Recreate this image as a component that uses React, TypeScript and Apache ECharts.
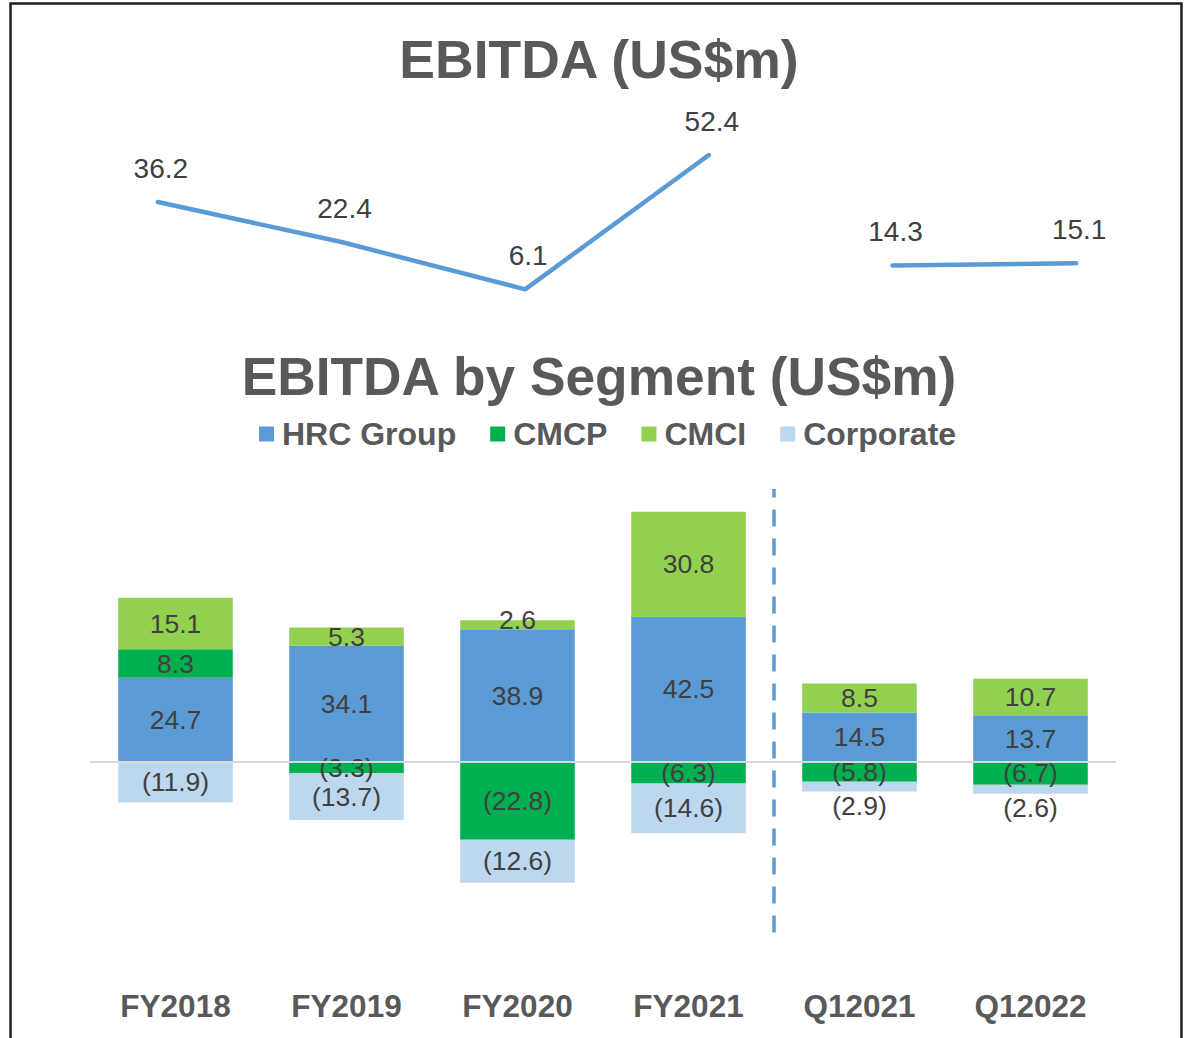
import React, { useEffect, useRef } from "react";
import * as echarts from "echarts";

const categories = ["FY2018", "FY2019", "FY2020", "FY2021", "Q12021", "Q12022"];
const ebitdaFY = [36.2, 22.4, 6.1, 52.4, null, null];
const ebitdaQ = [null, null, null, null, 14.3, 15.1];
const hrcGroup = [24.7, 34.1, 38.9, 42.5, 14.5, 13.7];
const cmcp = [8.3, -3.3, -22.8, -6.3, -5.8, -6.7];
const cmci = [15.1, 5.3, 2.6, 30.8, 8.5, 10.7];
const corporate = [-11.9, -13.7, -12.6, -14.6, -2.9, -2.6];
const seriesNames = ["HRC Group", "CMCP", "CMCI", "Corporate"];

const FONT = "'Liberation Sans', Arial, sans-serif";
const TXT = "#404040";

const fmt = (v: number) => (v < 0 ? `(${Math.abs(v).toFixed(1)})` : v.toFixed(1));

export default function App() {
  const ref = useRef<HTMLDivElement>(null);
  useEffect(() => {
    if (!ref.current) return;
    const chart = echarts.init(ref.current, null, { renderer: "svg" });
    const barLabel = {
      show: true,
      position: "inside",
      color: TXT,
      fontFamily: FONT,
      fontSize: 26.5,
      formatter: (p: any) => fmt(p.value),
    };
    const lineLabel = {
      show: true,
      position: "top",
      distance: 20,
      offset: [3, 0],
      color: TXT,
      fontFamily: FONT,
      fontSize: 28,
      formatter: (p: any) => p.value.toFixed(1),
    };
    const corpData = corporate.map((v, i) =>
      i >= 4 ? { value: v, label: { position: "bottom", distance: 1 } } : v
    );
    const cmciData = cmci.map((v, i) =>
      i === 2 ? { value: v, label: { offset: [0, -5] } } : v
    );
    chart.setOption({
      animation: false,
      backgroundColor: "#ffffff",
      textStyle: { fontFamily: FONT },
      title: [
        {
          text: "EBITDA (US$m)",
          left: 594,
          textAlign: "center",
          top: 27,
          textStyle: { fontFamily: FONT, fontSize: 53.5, fontWeight: "bold", color: "#595959" },
        },
        {
          text: "EBITDA by Segment (US$m)",
          left: 594,
          textAlign: "center",
          top: 345,
          textStyle: { fontFamily: FONT, fontSize: 53.3, fontWeight: "bold", color: "#595959" },
        },
      ],
      legend: {
        data: seriesNames,
        left: 254,
        top: 413,
        itemWidth: 15,
        itemHeight: 15,
        itemGap: 34,
        icon: "rect",
        textStyle: {
          fontFamily: FONT,
          fontSize: 32,
          fontWeight: "bold",
          color: "#595959",
          padding: [0, 0, 0, 3],
        },
      },
      graphic: [
        {
          type: "rect",
          shape: { x: 10.5, y: 3.5, width: 1171, height: 1060 },
          style: { fill: "none", stroke: "#1f1f1f", lineWidth: 2.5 },
          silent: true,
        },
      ],
      grid: [
        { left: 66, right: 22, top: 133, height: 174 },
        { left: 90, right: 74, top: 489, bottom: 105.5 },
      ],
      xAxis: [
        { type: "category", gridIndex: 0, data: categories, show: false },
        {
          type: "category",
          gridIndex: 1,
          data: categories,
          axisLine: { show: false, onZero: false },
          axisTick: { show: false },
          axisLabel: {
            margin: 57,
            fontFamily: FONT,
            fontSize: 31.5,
            fontWeight: "bold",
            color: "#595959",
          },
        },
        { type: "value", gridIndex: 1, min: 0, max: 6, show: false },
      ],
      yAxis: [
        { type: "value", gridIndex: 0, min: 0, max: 60, show: false },
        { type: "value", gridIndex: 1, min: -50, max: 80, show: false },
      ],
      series: [
        {
          type: "line",
          xAxisIndex: 0,
          yAxisIndex: 0,
          data: ebitdaFY,
          lineStyle: { color: "#5B9BD5", width: 4.5, cap: "round" },
          itemStyle: { color: "#5B9BD5" },
          symbol: "circle",
          symbolSize: 0,
          showSymbol: true,
          label: lineLabel,
        },
        {
          type: "line",
          xAxisIndex: 0,
          yAxisIndex: 0,
          data: ebitdaQ,
          lineStyle: { color: "#5B9BD5", width: 4.5, cap: "round" },
          itemStyle: { color: "#5B9BD5" },
          symbol: "circle",
          symbolSize: 0,
          showSymbol: true,
          label: lineLabel,
        },
        {
          name: "HRC Group",
          type: "bar",
          xAxisIndex: 1,
          yAxisIndex: 1,
          stack: "seg",
          barCategoryGap: "33%",
          data: hrcGroup,
          itemStyle: { color: "#5B9BD5" },
          label: barLabel,
          markLine: {
            silent: true,
            symbol: "none",
            label: { show: false },
            lineStyle: { color: "#D9D9D9", width: 2, type: "solid" },
            data: [{ yAxis: 0 }],
          },
        },
        {
          name: "CMCP",
          type: "bar",
          xAxisIndex: 1,
          yAxisIndex: 1,
          stack: "seg",
          data: cmcp,
          itemStyle: { color: "#00B050" },
          label: barLabel,
        },
        {
          name: "CMCI",
          type: "bar",
          xAxisIndex: 1,
          yAxisIndex: 1,
          stack: "seg",
          data: cmciData,
          itemStyle: { color: "#92D050" },
          label: barLabel,
        },
        {
          name: "Corporate",
          type: "bar",
          xAxisIndex: 1,
          yAxisIndex: 1,
          stack: "seg",
          data: corpData,
          itemStyle: { color: "#BDD7EE" },
          label: barLabel,
        },
        {
          type: "scatter",
          xAxisIndex: 2,
          yAxisIndex: 1,
          data: [],
          markLine: {
            silent: true,
            symbol: "none",
            label: { show: false },
            lineStyle: { color: "#5B9BD5", width: 3.5, type: [17, 12] },
            data: [{ xAxis: 4 }],
          },
        },
      ],
    });
    return () => chart.dispose();
  }, []);
  return (
    <div
      ref={ref}
      style={{ position: "fixed", left: 0, top: 0, width: 1190, height: 1038 }}
    />
  );
}
